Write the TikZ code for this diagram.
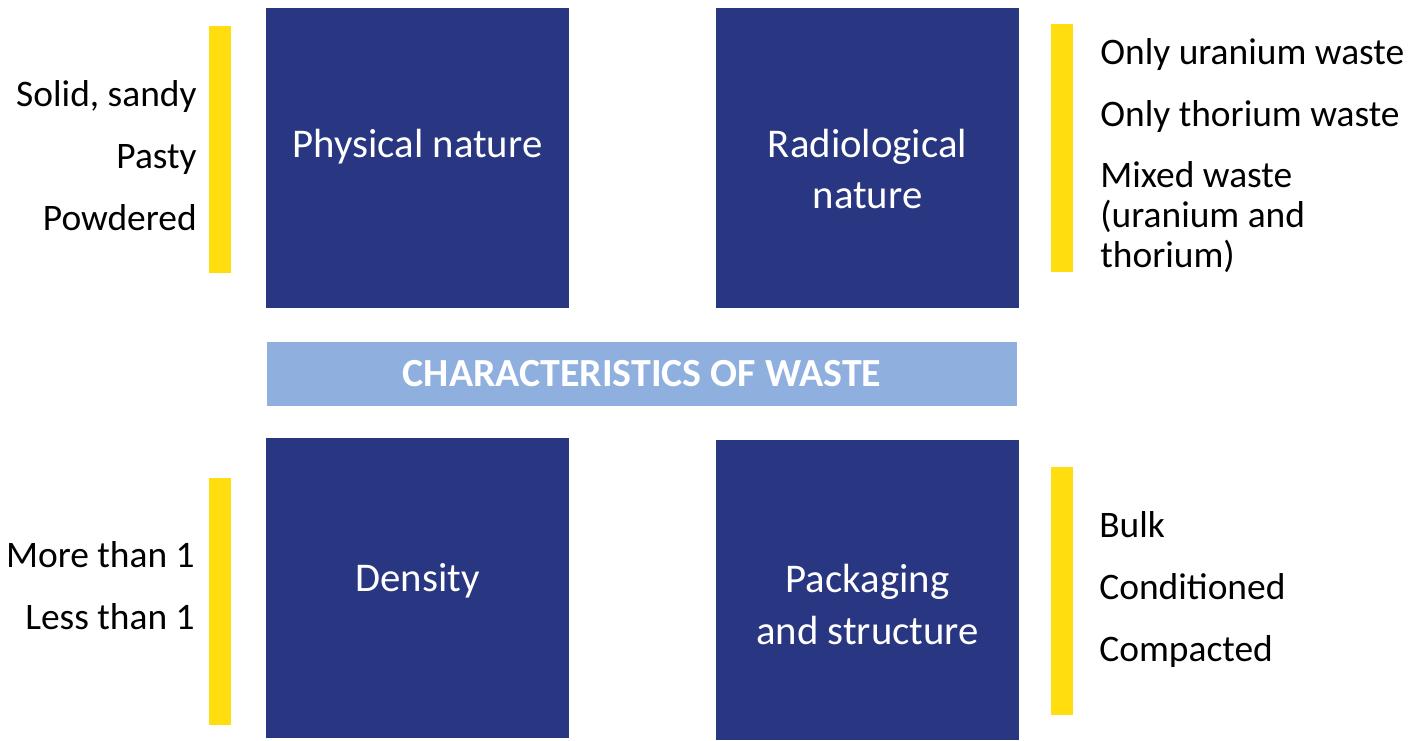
\documentclass[tikz,border=0pt]{standalone}
\usepackage{fontspec}
\setmainfont{Carlito}
\usetikzlibrary{positioning}
\usepackage{xcolor}
\definecolor{navy}{HTML}{293682}
\definecolor{gold}{HTML}{FFDD0F}
\definecolor{skyband}{HTML}{8FB0DE}

\begin{document}
\begin{tikzpicture}[node distance=1.24cm]
	% styles for the shapes
	\tikzstyle{category} = [rectangle, fill=navy, minimum width=6.06cm, minimum height=6cm, inner sep=0pt]	% blue squares
	\tikzstyle{catlabel} = [text=white, text width=5.8cm, align=flush center, inner sep=0pt, font=\fontsize{23.2}{29.5}\selectfont]	% text in the squares
	\tikzstyle{banner} = [rectangle, fill=skyband, minimum width=15cm, minimum height=1.28cm, text=white, font=\fontsize{22.7}{26}\selectfont\bfseries]	% title band
	\tikzstyle{bar} = [rectangle, fill=gold, minimum width=0.44cm, minimum height=4.95cm, inner sep=0pt]	% yellow bars
	\tikzstyle{listl} = [text width=4.6cm, align=flush right, inner sep=0pt, text height=0.5cm, text depth=0.15cm, font=\fontsize{21.3}{23}\selectfont]	% items on the left
	\tikzstyle{listr} = [listl, text width=6.4cm, align=flush left]	% items on the right
	\useasboundingbox (0,0) rectangle (28.46,-14.8);

	% squares and title
	\node (physical) [category] at (8.35,-3.15) {};
	\node (radio) [category] at (17.35,-3.15) {};
	\node (density) [category] at (8.35,-11.76) {};
	\node (packaging) [category] at (17.35,-11.80) {};
	\node (title) [banner, yshift=-0.05cm] at (12.84,-7.43) {CHARACTERISTICS OF WASTE};

	\node (physlbl) [catlabel, anchor=base] at ([yshift=-3cm]physical.north) {Physical nature};
	\node (radiolbl) [catlabel, anchor=base] at ([yshift=-3cm]radio.north) {Radiological\\nature};
	\node (denslbl) [catlabel, anchor=base] at ([yshift=-3.08cm]density.north) {Density};
	\node (packlbl) [catlabel, anchor=base] at ([yshift=-3.06cm]packaging.north) {Packaging\\and structure};

	% yellow bars
	\node (barphys) [bar] at (4.4,-2.99) {};
	\node (barradio) [bar] at (21.24,-2.96) {};
	\node (bardens) [bar] at (4.4,-12.03) {};
	\node (barpack) [bar] at (21.24,-11.82) {};

	% lists
	\node (solid) [listl, anchor=base east] at (3.94,-2.12) {Solid, sandy};
	\node (pasty) [listl, below of=solid] {Pasty};
	\node (powdered) [listl, below of=pasty] {Powdered};

	\node (onlyur) [listr, anchor=base west] at (22.0,-1.28) {Only uranium waste};
	\node (onlyth) [listr, below of=onlyur] {Only thorium waste};
	\node (mixed) [listr, below of=onlyth, yshift=-0.79cm, text depth=1.77cm] {Mixed waste\\(uranium and\\thorium)};

	\node (morethan) [listl, anchor=base east] at (3.9,-11.34) {More than 1};
	\node (lessthan) [listl, below of=morethan] {Less than 1};

	\node (bulk) [listr, anchor=base west] at (21.98,-10.74) {Bulk};
	\node (cond) [listr, below of=bulk] {Conditioned};
	\node (compact) [listr, below of=cond] {Compacted};
\end{tikzpicture}
\end{document}
